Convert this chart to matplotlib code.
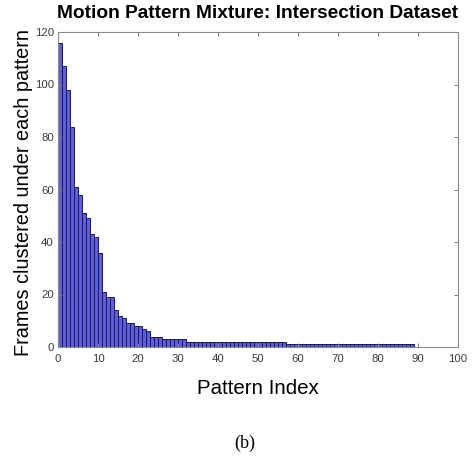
import matplotlib
matplotlib.use('Agg')
from matplotlib import pyplot as plt
import numpy as np

# frames per motion pattern (patterns 1..89)
head_counts = [116, 107, 98, 84, 61, 58, 51, 49, 43, 42, 36, 21, 19, 19, 14, 12, 11,
               9, 9, 8, 8, 7, 6, 4, 4, 4]
tail_counts = [3] * 6 + [2] * 25 + [1] * 32
counts = head_counts + tail_counts

x_ticks = list(range(0, 101, 10))
y_ticks = list(range(0, 121, 20))

plt.rcParams['font.family'] = ['Liberation Sans', 'DejaVu Sans']

fig = plt.figure(figsize=(4.73, 4.59), dpi=100)
ax = fig.add_axes([58 / 473, 1 - 347 / 459, 400 / 473, 315 / 459])

idx = np.arange(len(counts))
ax.bar(idx, counts, width=1.0, align='edge',
       facecolor='#5e5edc', edgecolor='#1a1a4a', linewidth=0.7)

ax.set_xlim(0, 100)
ax.set_ylim(0, 120)
ax.set_xticks(x_ticks)
ax.set_yticks(y_ticks)
ax.tick_params(direction='in', length=3, width=0.7, colors='#7a7a7a',
               labelcolor='#3a3a3a', labelsize=8.2, top=True, right=True)
ax.tick_params(axis='x', pad=5)
ax.tick_params(axis='y', pad=3)
for s in ax.spines.values():
    s.set_color('#8a8a8a')
    s.set_linewidth(0.8)

ax.set_title('Motion Pattern Mixture: Intersection Dataset',
             fontsize=13.8, fontweight='bold', pad=10)
ax.set_xlabel('Pattern Index', fontsize=14.8)
ax.set_ylabel('Frames clustered under each pattern', fontsize=14.3)
ax.xaxis.set_label_coords(0.5, -0.103)
ax.yaxis.set_label_coords(-0.063, 0.49)

fig.text(245 / 473, 1 - 443 / 459, '(b)', family='Liberation Serif',
         fontsize=13, ha='center', va='center')

fig.savefig('out.png', dpi=100)
